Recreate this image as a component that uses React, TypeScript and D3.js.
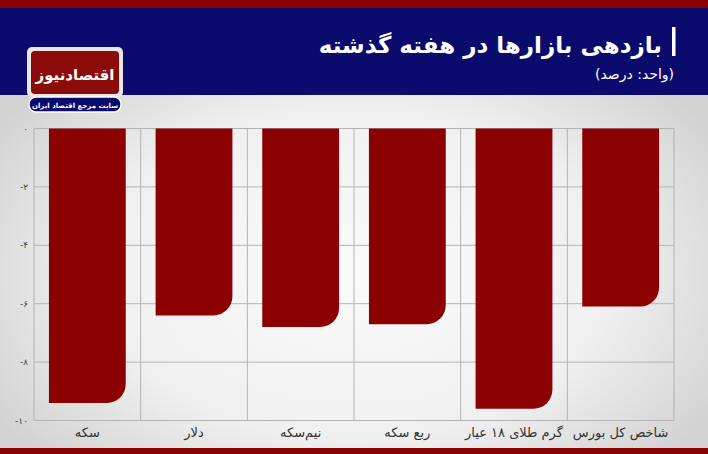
import React from "react";
import * as d3 from "d3";

const categories = ["سکه", "دلار", "نیم‌سکه", "ربع سکه", "گرم طلای ۱۸ عیار", "شاخص کل بورس"];
const values = [-9.4, -6.4, -6.8, -6.7, -9.6, -6.1];
const yTicks = [0, -2, -4, -6, -8, -10];
const title = "بازدهی بازارها در هفته گذشته";
const subtitle = "(واحد: درصد)";
const logoText = "اقتصادنیوز";
const logoSub = "سایت مرجع اقتصاد ایران";

const W = 708;
const H = 454;
const FONT = "'DejaVu Sans', 'Noto Sans', sans-serif";

const toFa = (s: string) => s.replace(/[0-9]/g, (d) => "۰۱۲۳۴۵۶۷۸۹"[+d]);

export default function App() {
  const x = d3.scaleBand<string>().domain(categories).range([34, 674]).padding(0);
  const y = d3.scaleLinear().domain([0, -10]).range([128.5, 420.5]);
  const bw = x.bandwidth();
  const r = 19;

  const barPath = (cat: string, v: number) => {
    const x0 = (x(cat) as number) + bw * 0.14;
    const x1 = x0 + bw * 0.72;
    const y0 = y(0);
    const y1 = y(v);
    const p = d3.path();
    p.moveTo(x0, y0);
    p.lineTo(x1, y0);
    p.lineTo(x1, y1 - r);
    p.arcTo(x1, y1, x1 - r, y1, r);
    p.lineTo(x0, y1);
    p.closePath();
    return p.toString();
  };

  return (
    <svg width={W} height={H} style={{ position: "absolute", left: 0, top: 0 }} fontFamily={FONT}>
      <defs>
        <radialGradient id="bg" cx="0.5" cy="0.6" r="0.6">
          <stop offset="0" stopColor="#fbfbfb" />
          <stop offset="0.6" stopColor="#f0f0f0" />
          <stop offset="1" stopColor="#d2d2d2" />
        </radialGradient>
      </defs>
      <rect x={0} y={0} width={W} height={H} fill="url(#bg)" />
      {/* header */}
      <rect x={0} y={0} width={W} height={8} fill="#8b0000" />
      <rect x={0} y={8} width={W} height={87} fill="#0b0b6e" />
      <rect x={0} y={448} width={W} height={6} fill="#8b0000" />

      {/* title */}
      <rect x={672} y={27} width={3.5} height={29} fill="#fff" />
      <text x={662} y={53} textAnchor="end" fill="#fff" fontSize={23} fontWeight="bold">
        {"\u200F" + title + "\u200F"}
      </text>
      <text x={674} y={79} textAnchor="end" fill="#fff" fontSize={14}>
        {"\u200F" + subtitle + "\u200F"}
      </text>

      {/* logo */}
      <rect x={27} y={47} width={96} height={50} rx={5} fill="#e8e8e8" />
      <rect x={31} y={51} width={88} height={43} rx={4} fill="#8b0a0a" />
      <text x={75} y={80} textAnchor="middle" fill="#fff" fontSize={15} fontWeight="bold">
        {"\u200F" + logoText + "\u200F"}
      </text>
      <rect x={29} y={97} width={92} height={15} rx={7} fill="#0b0b6e" stroke="#fff" strokeWidth={1.5} />
      <text x={75} y={107.5} textAnchor="middle" fill="#fff" fontSize={7} fontWeight="bold">
        {"\u200F" + logoSub + "\u200F"}
      </text>

      {/* grid */}
      {yTicks.map((t) => (
        <line key={"h" + t} x1={34} x2={674} y1={y(t)} y2={y(t)} stroke="#b4b4b4" strokeWidth={1} />
      ))}
      {categories.map((c) => (
        <line key={"v" + c} x1={x(c) as number} x2={x(c) as number} y1={y(0)} y2={y(-10)} stroke="#b4b4b4" strokeWidth={1} />
      ))}
      <line x1={674} x2={674} y1={y(0)} y2={y(-10)} stroke="#b4b4b4" strokeWidth={1} />

      {/* y labels */}
      {yTicks.map((t) => (
        <text key={"l" + t} x={28} y={y(t) + 3} textAnchor="end" fill="#444" fontSize={9}>
          {toFa(d3.format("d")(t).replace("−", "-"))}
        </text>
      ))}

      {/* bars */}
      {categories.map((c, i) => (
        <path key={"b" + c} d={barPath(c, values[i])} fill="#8b0000" />
      ))}

      {/* x labels */}
      {categories.map((c) => (
        <text key={"x" + c} x={(x(c) as number) + bw / 2} y={437} textAnchor="middle" fill="#333" fontSize={13}>
          {"\u200F" + c + "\u200F"}
        </text>
      ))}
    </svg>
  );
}
